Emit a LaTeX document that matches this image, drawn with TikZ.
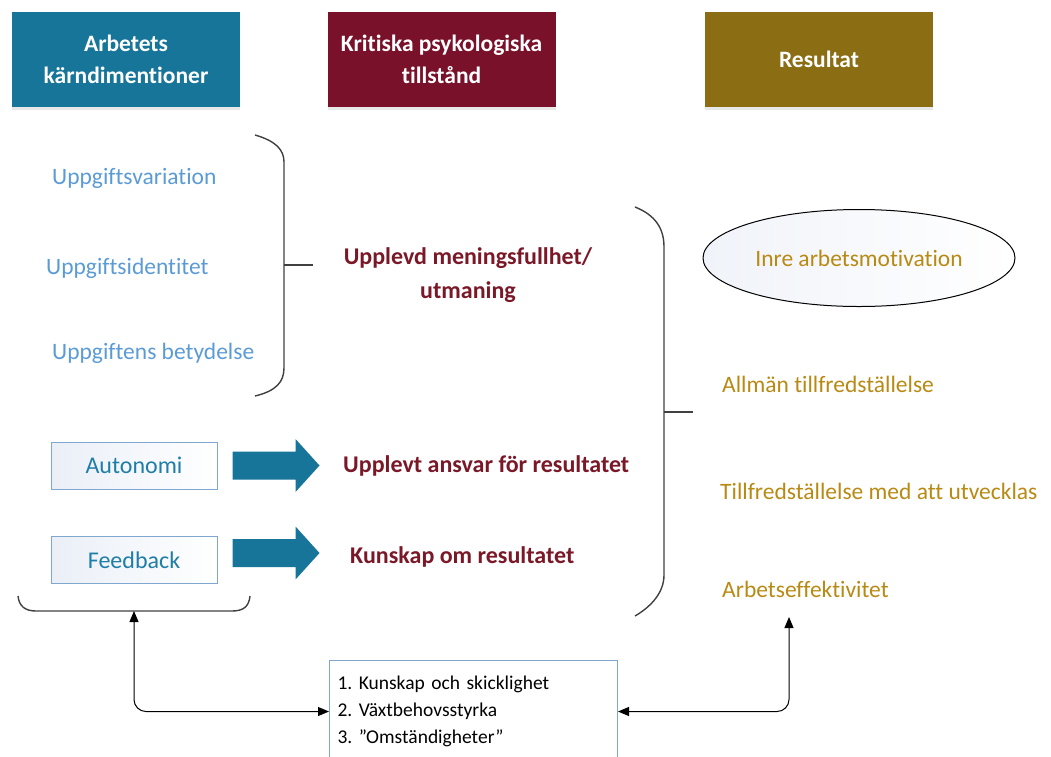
\documentclass[tikz,border=0pt]{standalone}
\usepackage{fontspec}
\setmainfont{Carlito}[Ligatures={NoCommon}]
\frenchspacing
\usetikzlibrary{shapes.geometric,arrows.meta,shadows,calc}

\definecolor{hteal}{RGB}{23,117,154}
\definecolor{hmaroon}{RGB}{122,17,42}
\definecolor{holive}{RGB}{139,109,20}
\definecolor{dimblue}{RGB}{91,155,213}
\definecolor{statered}{RGB}{122,24,40}
\definecolor{resgold}{RGB}{184,138,20}
\definecolor{boxtext}{RGB}{31,126,168}
\definecolor{boxedge}{RGB}{127,167,208}
\definecolor{bracegray}{RGB}{64,64,64}
\definecolor{paleblue}{RGB}{234,239,247}
\definecolor{faintblue}{RGB}{240,243,249}

\begin{document}
\begin{tikzpicture}[x=1pt,y=-1pt,
  headbox/.style={minimum width=228pt, minimum height=95pt, inner sep=0pt,
    text=white, align=center, font=\bfseries\fontsize{23.5}{32}\selectfont,
    drop shadow={opacity=0.18, shadow xshift=0pt, shadow yshift=-3pt}},
  dimtext/.style={anchor=west, inner sep=0pt, text=dimblue,
    font=\fontsize{23.5}{26}\selectfont},
  statetext/.style={inner sep=0pt, text=statered, align=center,
    font=\bfseries\fontsize{24}{34}\selectfont},
  restext/.style={anchor=west, inner sep=0pt, text=resgold,
    font=\fontsize{23.5}{26}\selectfont},
  smallbox/.style={draw=boxedge, line width=1pt, left color=paleblue,
    right color=white, minimum width=166pt, minimum height=47pt, inner sep=0pt,
    text=boxtext, font=\fontsize{24}{26}\selectfont},
  blockarrow/.style={fill=hteal, draw=none},
  brace/.style={draw=bracegray, line width=1.4pt},
  conn/.style={draw=black, line width=1pt, rounded corners=12pt,
    {Triangle[width=9pt,length=11pt]}-{Triangle[width=9pt,length=11pt]}}
]
\useasboundingbox (0,0) rectangle (1051,756);

% column headings
\node[headbox, fill=hteal]   (h1) at (126,59.5)   {Arbetets\\kärndimentioner};
\node[headbox, fill=hmaroon] (h2) at (441.5,59.5) {Kritiska psykologiska\\tillstånd};
\node[headbox, fill=holive]  (h3) at (819,59.5)   {Resultat};

% core job dimensions
\node[dimtext] (d1) at (52,178) {Uppgiftsvariation};
\node[dimtext] (d2) at (46,268) {Uppgiftsidentitet};
\node[dimtext] (d3) at (52,353) {Uppgiftens betydelse};

\node[smallbox] (auto) at (134,465.5) {Autonomi};
\node[smallbox] (feed) at (134,560)   {Feedback};

% brace grouping the first three dimensions
\coordinate (lb1) at (255,135);
\coordinate (lb2) at (255,396);
\coordinate (lbm) at (284,265);
\draw[brace] (lb1) .. controls (276,141) and (284,150) .. (284,162)
  -- (284,368) .. controls (284,382) and (276,391) .. (lb2);
\draw[brace] (lbm) -- ++(29,0);

% brace under Autonomi and Feedback
\coordinate (bb1) at (18,596);
\coordinate (bb2) at (250,596);
\coordinate (bbm) at (134,611);
\draw[brace] (bb1) .. controls (19,606) and (25,611) .. (36,611)
  -- (232,611) .. controls (244,611) and (249,606) .. (bb2);

% critical psychological states
\node[statetext] (s1) at (468,275) {Upplevd meningsfullhet/\\utmaning};
\node[statetext, anchor=west] (s2) at (343,466) {Upplevt ansvar för resultatet};
\node[statetext, anchor=west] (s3) at (350,557) {Kunskap om resultatet};

% block arrows from the two dimensions to their states
\fill[blockarrow] ($(auto.east)+(15,-14)$) -- ++(63,0) -- ++(0,-12.5) -- ++(24,26.5)
  -- ++(-24,26.5) -- ++(0,-12.5) -- ++(-63,0) -- cycle;
\fill[blockarrow] ($(feed.east)+(15,-21)$) -- ++(63,0) -- ++(0,-12.5) -- ++(24,26.5)
  -- ++(-24,26.5) -- ++(0,-12.5) -- ++(-63,0) -- cycle;

% brace grouping the states
\coordinate (rb1) at (635,207);
\coordinate (rb2) at (635,616);
\coordinate (rbm) at (664,412);
\draw[brace] (rb1) .. controls (655,215) and (664,228) .. (664,247)
  -- (664,575) .. controls (664,592) and (652,606) .. (rb2);
\draw[brace] (rbm) -- ++(29,0);

% outcomes
\node[ellipse, draw=black, line width=1pt, left color=faintblue,
  right color=white, minimum width=312pt, minimum height=97pt, inner sep=0pt,
  text=resgold, font=\fontsize{23.5}{26}\selectfont] (em) at (859,258) {Inre arbetsmotivation};
\node[restext] (r1) at (722,384) {Allmän tillfredställelse};
\node[restext] (r2) at (720,491) {Tillfredställelse med att utvecklas};
\node[restext] (r3) at (722,589) {Arbetseffektivitet};

% moderators
\node[draw=boxedge, line width=1pt, fill=white, anchor=north west,
  minimum width=288pt, minimum height=102pt, inner xsep=8pt, inner ysep=0pt,
  text width=272pt, align=left, font=\fontsize{19.5}{27}\selectfont] (lst) at (329,660)
  {1. Kunskap och skicklighet\\2. Växtbehovsstyrka\\3. ”Omständigheter”};

\coordinate (ra) at (789,617);
\draw[conn] (bbm) |- (lst.west);
\draw[conn] (ra) |- (lst.east);
\end{tikzpicture}
\end{document}
